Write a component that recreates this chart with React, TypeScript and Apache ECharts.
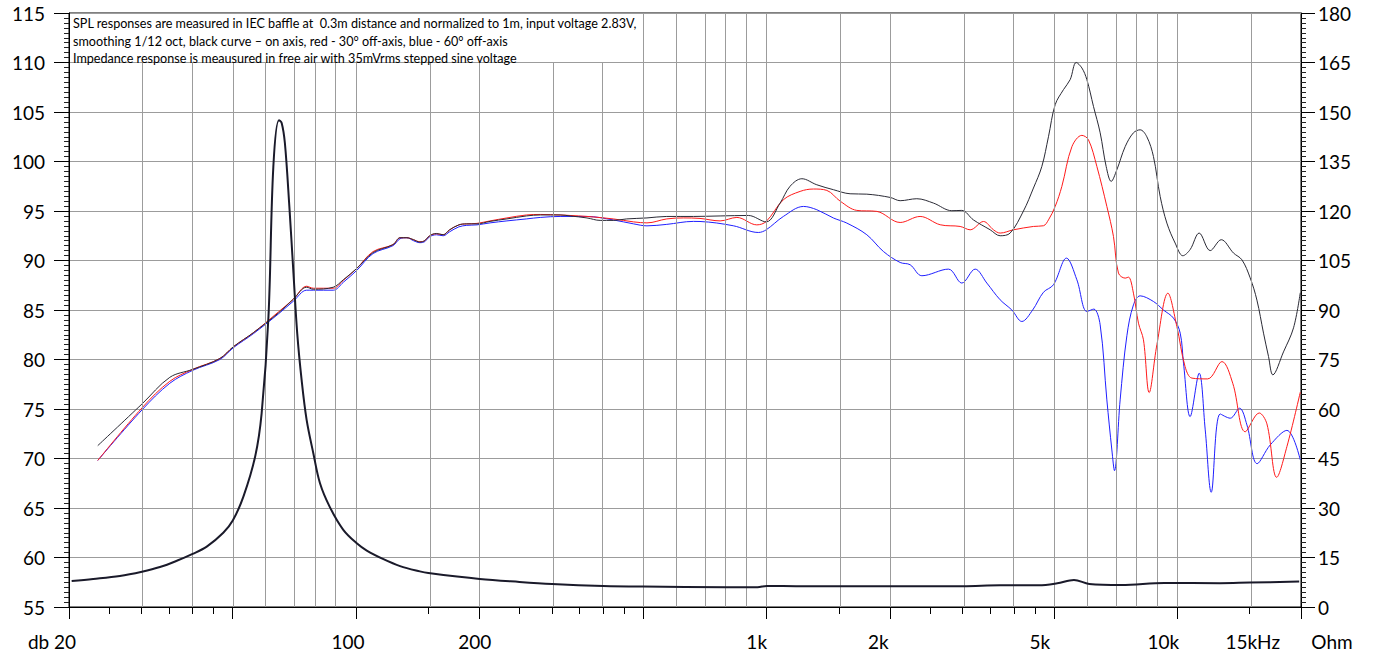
import React, { useEffect, useRef } from 'react';
import * as echarts from 'echarts';

const noteLines = [
  'SPL responses are measured in IEC baffle at  0.3m distance and normalized to 1m, input voltage 2.83V,',
  'smoothing 1/12 oct, black curve \u2013 on axis, red - 30\u00b0 off-axis, blue - 60\u00b0 off-axis',
  'Impedance response is meausured in free air with 35mVrms stepped sine voltage',
];

const xLabelFreqs = [20, 100, 200, 1000, 2000, 5000, 10000, 15000, 20000];
const xLabelTexts = ['db 20', '100', '200', '1k', '2k', '5k', '10k', '15kHz', 'Ohm'];
const majorTickFreqs = [20, 50, 100, 200, 500, 1000, 2000, 5000, 10000, 20000];
const minorTickFreqs = [25, 30, 35, 40, 45, 150, 250, 300, 350, 400, 450, 1500, 2500, 3000, 3500, 4000, 4500, 15000];
const gridFreqs = [30, 40, 50, 60, 70, 80, 90, 100, 150, 200, 300, 400, 500, 600, 700, 800, 900, 1000, 1500, 2000, 3000, 4000, 5000, 6000, 7000, 8000, 9000, 10000, 15000];

// On-axis SPL (black)
const blackFreq = [23.5, 30.1, 35.2, 40, 46.6, 50.3, 56.2, 64.7, 70.4, 75.8, 78.7, 88, 93.1, 100.4, 110, 123, 128, 133, 138, 143, 147, 151, 157, 163, 169, 178, 186, 197, 212, 233, 260, 281, 314, 332, 365, 393, 423, 456, 511, 571, 663, 770, 902, 997, 1078, 1140, 1218, 1324, 1454, 1596, 1753, 1998, 2113, 2320, 2547, 2823, 2986, 3187, 3501, 3702, 3915, 4219, 4462, 4677, 4854, 5040, 5280, 5482, 5670, 5854, 6020, 6247, 6486, 6708, 6899, 7123, 7462, 7817, 8116, 8426, 8745, 9080, 9428, 9876, 10310, 10740, 11300, 12020, 12790, 13700, 14360, 15040, 15620, 16210, 16670, 17080, 18130, 19180, 19920];
const blackDb = [71.3, 75.5, 78.2, 79.0, 80.1, 81.3, 82.7, 84.7, 86.1, 87.3, 87.1, 87.3, 88.05, 89.2, 90.8, 91.6, 92.3, 92.3, 92.1, 91.86, 92.0, 92.5, 92.73, 92.6, 93.1, 93.6, 93.7, 93.7, 93.95, 94.2, 94.5, 94.6, 94.6, 94.5, 94.3, 94.05, 94.05, 94.2, 94.3, 94.45, 94.45, 94.5, 94.55, 93.9, 95.8, 97.5, 98.26, 97.65, 97.15, 96.74, 96.7, 96.37, 96.04, 96.24, 95.8, 95.03, 95.06, 94.1, 93.1, 92.5, 92.77, 95.0, 97.32, 99.5, 102.5, 105.74, 107.26, 108.27, 110.0, 109.45, 108.27, 105.57, 102.9, 99.5, 97.99, 99.17, 101.5, 102.9, 103.2, 102.5, 100.5, 96.47, 93.78, 91.76, 90.48, 91.1, 92.77, 91.0, 92.1, 90.75, 90.07, 88.25, 86.0, 82.66, 80.3, 78.45, 80.77, 83.2, 86.74];

// 30 deg off-axis SPL (red)
const redFreq = [23.5, 30.1, 35.2, 40, 46.6, 50.3, 56.2, 64.7, 70.4, 75.8, 78.7, 88, 93.1, 100.4, 110, 123, 128, 133, 138, 143, 147, 151, 157, 163, 169, 178, 186, 197, 212, 233, 260, 281, 314, 332, 365, 423, 474, 511, 571, 627, 688, 770, 846, 946, 997, 1098, 1206, 1299, 1401, 1509, 1657, 1854, 2113, 2363, 2645, 2958, 3129, 3372, 3566, 3702, 3988, 4462, 4719, 4854, 5040, 5232, 5536, 5854, 6073, 6367, 6734, 6988, 7187, 7462, 7601, 7817, 8040, 8268, 8537, 8915, 9483, 9972, 10440, 10850, 11850, 12840, 13640, 14630, 15820, 16520, 17450, 18480, 19920];
const redDb = [69.8, 75.1, 77.8, 79.0, 80.1, 81.3, 82.7, 84.8, 86.1, 87.4, 87.2, 87.2, 88.0, 89.2, 90.9, 91.6, 92.3, 92.3, 92.1, 91.9, 92.0, 92.5, 92.7, 92.6, 93.1, 93.6, 93.7, 93.75, 94.0, 94.3, 94.6, 94.65, 94.6, 94.55, 94.45, 94.2, 93.9, 93.8, 94.2, 94.3, 94.25, 94.0, 94.35, 93.6, 93.94, 96.14, 96.98, 97.22, 97.08, 96.0, 95.06, 94.96, 93.84, 94.45, 93.61, 93.44, 93.1, 93.94, 93.1, 92.77, 93.1, 93.44, 93.51, 94.1, 95.46, 97.48, 101.5, 102.64, 102.2, 99.5, 95.46, 92.43, 88.73, 88.22, 88.32, 86.7, 83.67, 81.99, 76.66, 81.5, 86.7, 83.33, 79.29, 78.12, 78.04, 79.79, 77.6, 72.7, 74.6, 73.5, 68.1, 71.2, 76.7];

// 60 deg off-axis SPL (blue)
const blueFreq = [23.5, 30.1, 35.2, 40, 46.6, 50.3, 56.2, 64.7, 70.4, 75.8, 78.7, 88, 93.1, 100.4, 110, 123, 128, 133, 138, 143, 147, 151, 157, 163, 169, 178, 186, 197, 212, 233, 260, 281, 314, 365, 423, 474, 511, 571, 663, 688, 829, 954, 997, 1098, 1229, 1324, 1454, 1567, 1753, 1924, 2113, 2235, 2387, 2770, 2986, 3218, 3436, 3702, 3953, 4181, 4442, 4719, 4992, 5370, 5692, 6020, 6260, 6486, 6734, 6926, 7028, 7255, 7534, 7817, 8116, 8745, 9249, 9784, 10160, 10350, 10740, 11300, 11690, 12090, 12710, 13450, 14170, 14770, 15640, 16830, 18480, 19920];
const blueDb = [69.8, 74.9, 77.6, 78.9, 80.0, 81.2, 82.6, 84.6, 85.9, 87.0, 87.0, 87.0, 87.8, 89.0, 90.7, 91.5, 92.2, 92.3, 92.0, 91.8, 91.9, 92.4, 92.6, 92.5, 92.9, 93.4, 93.55, 93.6, 93.8, 94.0, 94.2, 94.35, 94.45, 94.45, 94.1, 93.7, 93.5, 93.65, 93.95, 93.94, 93.51, 92.83, 93.1, 94.45, 95.46, 95.13, 94.29, 93.78, 92.6, 90.91, 89.8, 89.57, 88.46, 89.13, 87.72, 89.13, 87.72, 86.03, 85.0, 83.84, 85.0, 86.79, 87.55, 90.24, 88.05, 84.85, 85.09, 83.5, 75.92, 70.86, 68.77, 75.92, 82.4, 85.52, 86.43, 85.86, 85.0, 84.18, 82.66, 79.63, 74.23, 78.62, 72.89, 66.59, 74.5, 74.07, 75.08, 73.39, 69.48, 71.37, 72.84, 69.86];

// Impedance (Ohm)
const impFreq = [20.3, 22.9, 26.6, 30.1, 33.3, 36.6, 40.0, 43.3, 47.5, 50.1, 53.2, 56.8, 58.9, 61.2, 62.9, 64.9, 65.9, 67.1, 68.8, 70.4, 71.9, 73.7, 75.8, 78.7, 81.7, 86.4, 93.1, 100.4, 106.2, 116.6, 128, 143, 150, 200, 250, 300, 400, 500, 800, 950, 1000, 1200, 3000, 3700, 4600, 5100, 5600, 6100, 7300, 9300, 12700, 15000, 19800];
const impOhm = [7.9, 8.5, 9.4, 10.7, 12.1, 14.0, 16.1, 18.3, 22.5, 26.2, 33.5, 45.6, 58.7, 88.0, 133.5, 147.5, 146.7, 140.6, 121.4, 101.2, 83.0, 68.8, 56.7, 46.6, 37.5, 30.2, 23.4, 19.3, 17.1, 14.5, 12.4, 10.8, 10.3, 8.5, 7.6, 7.0, 6.4, 6.2, 6.0, 6.0, 6.4, 6.3, 6.3, 6.6, 6.6, 7.2, 8.2, 7.0, 6.7, 7.3, 7.2, 7.4, 7.7];

const labelPads = [[0, 34, 0, 0], [0, 16, 0, 0], [0, 10, 0, 0], [0, 20, 0, 0], [0, 24, 0, 0], [0, 28, 0, 0], [0, 28, 0, 0], [0, 0, 0, 6], [0, 0, 0, 62]];

const lg = (f: number) => Math.log10(f);
const FONT = 'Lato, "Open Sans", sans-serif';
const GRID_COLOR = '#9c9c9c';

export default function App() {
  const ref = useRef<HTMLDivElement>(null);
  useEffect(() => {
    if (!ref.current) return;
    const chart = echarts.init(ref.current, undefined, { renderer: 'svg' });
    const rich: Record<string, any> = {};
    labelPads.forEach((p, i) => {
      rich['l' + i] = { padding: p, fontSize: 19, fontFamily: FONT, color: '#000' };
    });
    const xBase = {
      type: 'value',
      min: lg(20),
      max: lg(20000),
      position: 'bottom',
      splitLine: { show: false },
    };
    const toXY = (fs: number[], vs: number[]) => fs.map((f, i) => [lg(f), vs[i]]);
    const lineSeries = (name: string, fs: number[], vs: number[], color: string, width: number, yIdx: number, z: number) => ({
      name,
      type: 'line',
      data: toXY(fs, vs),
      yAxisIndex: yIdx,
      showSymbol: false,
      symbol: 'none',
      smooth: 0.35,
      lineStyle: { color, width },
      z,
      silent: true,
    });
    chart.setOption({
      animation: false,
      backgroundColor: '#fff',
      grid: {
        left: 69, right: 76, top: 13, bottom: 52,
        show: true, borderColor: '#000', borderWidth: 1, backgroundColor: '#fff',
        containLabel: false, outerBoundsMode: 'none',
      },
      xAxis: [
        {
          ...xBase,
          axisLine: { show: true, lineStyle: { color: '#000', width: 1 } },
          axisTick: { show: true, length: 12, lineStyle: { color: '#000' }, customValues: majorTickFreqs.map(lg) },
          axisLabel: {
            show: true,
            margin: 25,
            customValues: xLabelFreqs.map(lg),
            formatter: (v: number) => {
              const i = xLabelFreqs.findIndex((f) => Math.abs(lg(f) - v) < 1e-6);
              return i >= 0 ? '{l' + i + '|' + xLabelTexts[i] + '}' : '';
            },
            rich,
            fontSize: 19, fontFamily: FONT, color: '#000',
          },
        },
        {
          ...xBase,
          axisLine: { show: false },
          axisTick: { show: true, length: 7, lineStyle: { color: '#000' }, customValues: minorTickFreqs.map(lg) },
          axisLabel: { show: false },
        },
      ],
      yAxis: [
        {
          type: 'value', min: 55, max: 115, interval: 5, position: 'left',
          axisLine: { show: true, lineStyle: { color: '#000' } },
          axisTick: { show: true, length: 15, lineStyle: { color: '#000' } },
          minorTick: { show: true, splitNumber: 10, length: 5, lineStyle: { color: '#222' } },
          splitLine: { show: true, lineStyle: { color: GRID_COLOR, width: 1 } },
          axisLabel: { margin: 24, fontSize: 19, fontFamily: FONT, color: '#000' },
        },
        {
          type: 'value', min: 0, max: 180, interval: 15, position: 'right',
          axisLine: { show: true, lineStyle: { color: '#000' } },
          axisTick: { show: true, length: 14, lineStyle: { color: '#000' } },
          minorTick: { show: true, splitNumber: 10, length: 5, lineStyle: { color: '#222' } },
          splitLine: { show: false },
          axisLabel: { margin: 17, fontSize: 19, fontFamily: FONT, color: '#000' },
        },
      ],
      series: [
        {
          name: 'grid',
          type: 'line',
          data: [],
          z: 1,
          silent: true,
          markLine: {
            silent: true,
            symbol: ['none', 'none'],
            label: { show: false },
            lineStyle: { color: GRID_COLOR, width: 1, type: 'solid' },
            data: gridFreqs.map((f) => ({ xAxis: lg(f) })),
          },
        },
        lineSeries('60° off-axis', blueFreq, blueDb, '#1f1fff', 1, 0, 2),
        lineSeries('30° off-axis', redFreq, redDb, '#ff1a1a', 1, 0, 3),
        lineSeries('on axis', blackFreq, blackDb, '#2a2a35', 1, 0, 4),
        lineSeries('Impedance', impFreq, impOhm, '#1a1a2a', 2, 1, 5),
      ],
      graphic: [
        {
          type: 'rect', z: 10, silent: true,
          shape: { x: 70, y: 14, width: 570, height: 48 },
          style: { fill: '#fff' },
        },
        {
          type: 'text', z: 11, silent: true, x: 73, y: 15,
          style: {
            text: noteLines.join('\n'),
            fontSize: 12.6, fontFamily: FONT, lineHeight: 17.5, fill: '#000',
            verticalAlign: 'top',
          },
        },
      ],
    });
    return () => chart.dispose();
  }, []);
  return (
    <div style={{ position: 'fixed', left: 0, top: 0, width: 1377, height: 659, background: '#fff' }}>
      <div ref={ref} style={{ width: 1377, height: 659 }} />
    </div>
  );
}
